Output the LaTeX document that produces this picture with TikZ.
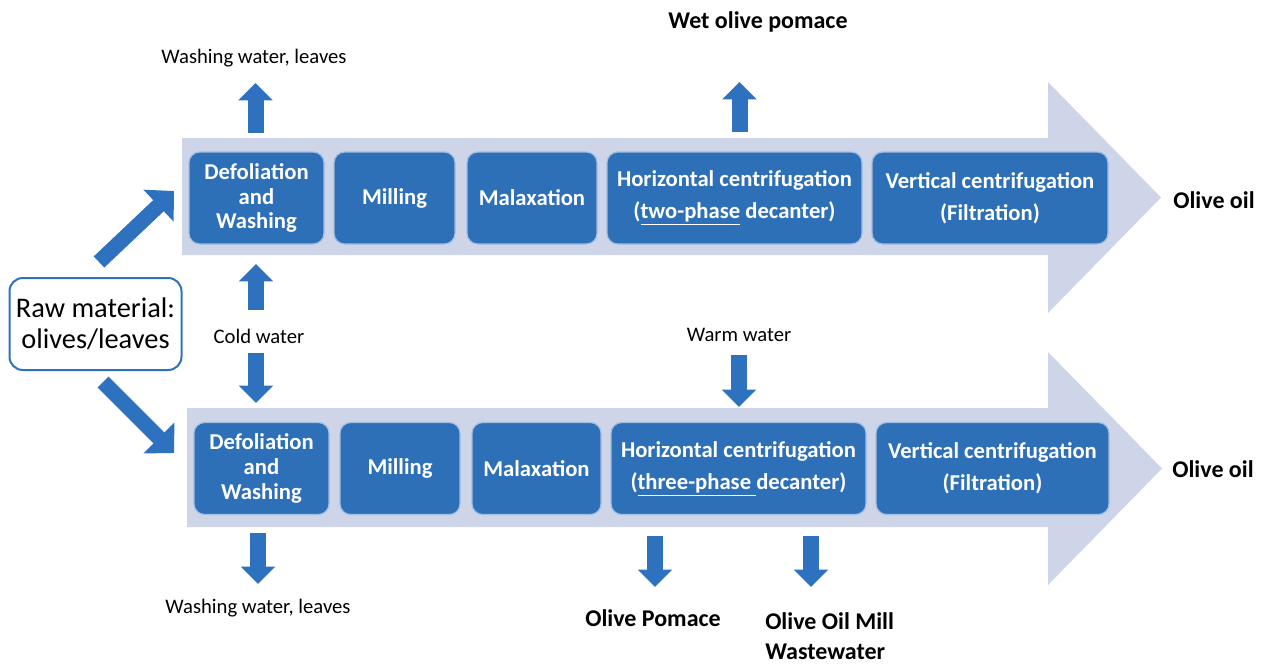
\documentclass[tikz,border=0pt]{standalone}
\usepackage{fontspec}
\setmainfont{Carlito}
\usetikzlibrary{arrows.meta}
\definecolor{boxblue}{RGB}{46,112,184}
\definecolor{boxedge}{RGB}{160,190,225}
\definecolor{bandcol}{RGB}{206,213,232}
\definecolor{arrowblue}{RGB}{46,113,190}
\begin{document}
\begin{tikzpicture}[x=0.75pt,y=-0.75pt,
  stage/.style={rectangle, rounded corners=8pt, fill=boxblue, draw=boxedge, line width=0.9pt,
    text=white, font=\fontsize{17}{18.5}\selectfont\bfseries, align=center, inner sep=0pt,
    minimum height=69pt},
  twoline/.style={font=\fontsize{17}{24}\selectfont\bfseries},
  smalllbl/.style={font=\fontsize{15.5}{18}\selectfont, inner sep=0pt},
  biglbl/.style={font=\fontsize{18}{22}\selectfont\bfseries, inner sep=0pt},
  blk/.style={draw=arrowblue, line width=12pt, -{Triangle[width=25pt,length=13pt]}},
  diag/.style={draw=arrowblue, line width=11.5pt, -{Triangle[width=32pt,length=16pt]}},
  band/.style={fill=bandcol, draw=none}
]
\useasboundingbox (0,0) rectangle (1261,664);
% bands
\fill[band] (182,138) -- (1048,138) -- (1048,82) -- (1161,197.5) -- (1048,313) -- (1048,255) -- (182,255) -- cycle;
\fill[band] (187,408) -- (1048,408) -- (1048,352) -- (1162,468.5) -- (1048,585) -- (1048,527) -- (187,527) -- cycle;
% top row
\node[stage, minimum width=101.25pt] (t1) at (256.5,198) {Defoliation\\and\\Washing};
\node[stage, minimum width=90.75pt] (t2) at (394.5,198) {Milling};
\node[stage, minimum width=97.5pt] (t3) at (532,198) {Malaxation};
\node[stage, twoline, minimum width=191.25pt] (t4) at (734.5,198) {Horizontal centrifugation\\(\underline{two-phase} decanter)};
\node[stage, twoline, minimum width=177pt] (t5) at (990,198) {Vertical centrifugation\\(Filtration)};
% bottom row
\node[stage, minimum width=101.25pt] (b1) at (261.5,468.5) {Defoliation\\and\\Washing};
\node[stage, minimum width=90pt] (b2) at (400,468.5) {Milling};
\node[stage, minimum width=96.75pt] (b3) at (536.5,468.5) {Malaxation};
\node[stage, twoline, minimum width=191.25pt] (b4) at (738.5,468.5) {Horizontal centrifugation\\(\underline{three-phase\ }decanter)};
\node[stage, twoline, minimum width=174.75pt] (b5) at (992.5,468.5) {Vertical centrifugation\\(Filtration)};
% raw material
\node[draw=arrowblue, line width=1.5pt, fill=white, rounded corners=10pt, minimum width=129pt, minimum height=69pt,
  align=center, font=\fontsize{21.3}{23}\selectfont, inner sep=0pt] (raw) at (95.5,324) {Raw material:\\olives/leaves};
% labels
\node[smalllbl] (wwt) at (254,58) {Washing water, leaves};
\node[biglbl] (wop) at (758,22) {Wet olive pomace};
\node[biglbl] (oil1) at (1214,200) {Olive oil};
\node[biglbl] (oil2) at (1213,469) {Olive oil};
\node[smalllbl] (cold) at (259,336) {Cold water};
\node[smalllbl] (warm) at (739,335) {Warm water};
\node[smalllbl] (wwb) at (258,608) {Washing water, leaves};
\node[biglbl] (pom) at (653,618) {Olive Pomace};
\node[biglbl, align=left, anchor=west] (mill) at (765,636) {Olive Oil Mill\\Wastewater};
% arrow coordinates
\coordinate (a1s) at (255.5,133); \coordinate (a1e) at (255.5,83);
\coordinate (a2s) at (739.5,132); \coordinate (a2e) at (739.5,82);
\coordinate (c1s) at (256,310); \coordinate (c1e) at (256,264);
\coordinate (c2s) at (256,353); \coordinate (c2e) at (256,403);
\coordinate (w1s) at (739,355); \coordinate (w1e) at (739,407);
\coordinate (d1s) at (258,533); \coordinate (d1e) at (258,584);
\coordinate (d2s) at (655,536); \coordinate (d2e) at (655,587);
\coordinate (d3s) at (811,536); \coordinate (d3e) at (811,587);
\coordinate (g1s) at (99,262); \coordinate (g1e) at (174,191);
\coordinate (g2s) at (103,382); \coordinate (g2e) at (174,453);
\draw[blk] (a1s) -- (a1e);
\draw[blk] (a2s) -- (a2e);
\draw[blk] (c1s) -- (c1e);
\draw[blk] (c2s) -- (c2e);
\draw[blk] (w1s) -- (w1e);
\draw[blk] (d1s) -- (d1e);
\draw[blk] (d2s) -- (d2e);
\draw[blk] (d3s) -- (d3e);
\draw[diag] (g1s) -- (g1e);
\draw[diag] (g2s) -- (g2e);
\end{tikzpicture}
\end{document}
